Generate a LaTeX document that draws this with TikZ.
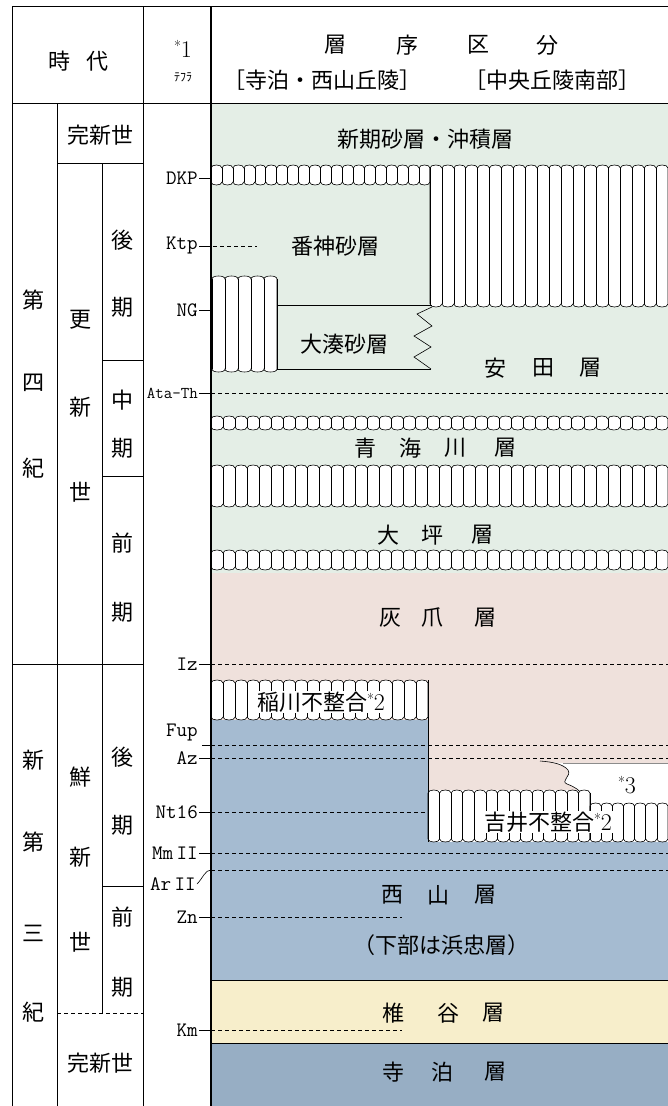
\documentclass[tikz,border=0pt]{standalone}
\usepackage{fontspec}
\newfontfamily\jp{Noto Sans CJK JP}
\definecolor{grn}{HTML}{E4EEE6}
\definecolor{pnk}{HTML}{EFE1DC}
\definecolor{blu}{HTML}{A5BBD1}
\definecolor{ylw}{HTML}{F7EECB}
\definecolor{blutwo}{HTML}{97AEC4}
\newcommand{\uband}[5]{%
  \pgfmathtruncatemacro{\ubn}{round((#2-#1)/#5)}%
  \pgfmathsetmacro{\ubs}{(#2-#1)/\ubn}%
  \filldraw[fill=white, draw=black, bnd]
    (#1,{#3+3})
    \foreach \k in {1,...,\ubn}{ .. controls ({#1+(\k-1)*\ubs},{#3-1}) and ({#1+\k*\ubs},{#3-1}) .. ({#1+\k*\ubs},{#3+3}) }
    -- (#2,{#4-3})
    \foreach \k in {\ubn,...,1}{ .. controls ({#1+\k*\ubs},{#4+1}) and ({#1+(\k-1)*\ubs},{#4+1}) .. ({#1+(\k-1)*\ubs},{#4-3}) }
    -- cycle;
  \foreach \k in {0,...,\ubn}{ \draw[bnd] ({#1+\k*\ubs},{#3+3}) -- ({#1+\k*\ubs},{#4-3}); }%
}
\newcommand{\astnum}[1]{{\rmfamily\fontsize{24}{24}\selectfont\raisebox{6pt}{\fontsize{15}{15}\selectfont *}#1}}
\begin{document}
\begin{tikzpicture}[x=1pt,y=-1pt,
  hj/.style={font=\jp\fontsize{22}{22}\selectfont, inner sep=0pt},
  sj/.style={font=\jp\fontsize{22}{22}\selectfont, inner sep=0pt},
  tl/.style={font=\ttfamily\fontsize{20.5}{20.5}\selectfont, inner sep=1pt, anchor=east},
  frame/.style={line width=0.8pt},
  dsh/.style={dash pattern=on 4pt off 3pt, line width=0.7pt},
  bnd/.style={line width=0.6pt}]
\useasboundingbox (0,0) rectangle (668,1106);
\fill[white] (0,0) rectangle (668,1106);
% ---------- layer backgrounds
\fill[grn] (211,103) rectangle (668,573);
\fill[pnk] (211,573) rectangle (668,790);
\fill[blu] (211,720) rectangle (428,842);
\fill[blu] (211,842) rectangle (668,980);
\fill[ylw] (211,980) rectangle (668,1043);
\fill[blutwo] (211,1043) rectangle (668,1106);
% ---------- dashed tephra lines
\coordinate (kS) at (213,246); \coordinate (kE) at (257,246);
\coordinate (aS) at (211,393); \coordinate (aE) at (668,393);
\coordinate (iS) at (211,664); \coordinate (iE) at (668,664);
\coordinate (fupS) at (202,745); \coordinate (fS) at (211,745); \coordinate (fE) at (668,745);
\coordinate (azS) at (211,758); \coordinate (azE) at (668,758);
\coordinate (nS) at (211,812); \coordinate (nE) at (668,812);
\coordinate (mS) at (211,853); \coordinate (mE) at (668,853);
\coordinate (rS) at (211,870); \coordinate (rE) at (668,870);
\coordinate (zS) at (211,917); \coordinate (zE) at (402,917);
\coordinate (kmS) at (211,1030); \coordinate (kmE) at (402,1030);
\draw[dsh] (kS) -- (kE);
\draw[dsh] (aS) -- (aE);
\draw[dsh] (iS) -- (iE);
\draw[dsh] (fS) -- (fE);
\draw[dsh] (azS) -- (azE);
\draw[dsh] (nS) -- (nE);
\draw[dsh] (mS) -- (mE);
\draw[dsh] (rS) -- (rE);
\draw[dsh] (zS) -- (zE);
\draw[dsh] (kmS) -- (kmE);
% ---------- *3 region
\fill[white] (540,761) .. controls (553,762) and (563,764) .. (568,770)
  .. controls (572,776) and (560,781) .. (567,784)
  .. controls (575,787) and (580,790) .. (584,797)
  .. controls (586,801) and (588,803) .. (590,803)
  -- (668,803) -- (668,763) -- (560,763) -- cycle;
\draw[bnd] (540,761) .. controls (553,762) and (563,764) .. (568,770)
  .. controls (572,776) and (560,781) .. (567,784)
  .. controls (575,787) and (580,790) .. (584,797)
  .. controls (586,801) and (588,803) .. (590,803);
\draw[black!45, line width=0.5pt] (563,763) -- (668,763);
% ---------- unconformity bands
\uband{211}{430}{165}{185}{11}
\uband{430}{668}{165}{307}{12}
\uband{212}{277}{276}{372}{13}
\uband{211}{668}{416}{430}{12}
\uband{211}{668}{465}{507}{12}
\uband{211}{668}{550}{570}{12}
\uband{211}{428}{680}{720}{12}
\uband{428}{590}{790}{842}{12}
\uband{590}{668}{803}{842}{12}
% ---------- Ominato box and zigzag
\draw[bnd] (277,305) -- (432,305);
\draw[bnd] (277,369) -- (431,369);
\draw[bnd] (432,307) -- (417,314) -- (432,326) -- (414,336) -- (431,347) -- (414,357) -- (431,369);
% boundary Inagawa / Yoshii
\draw[line width=0.8pt] (428,680) -- (428,842);
% Shiiya band borders
\draw[line width=0.9pt] (211,980) -- (668,980);
\draw[line width=0.9pt] (211,1043) -- (668,1043);
% ---------- frame
\draw[frame] (12,6) -- (668,6);
\draw[frame] (12,103) -- (668,103);
\draw[frame] (12,6) -- (12,1106);
\draw[frame] (143,6) -- (143,1106);
\draw[line width=1.4pt] (211,6) -- (211,1106);
\draw[frame] (57,103) -- (57,1106);
\draw[frame] (57,163) -- (143,163);
\draw[frame] (102,163) -- (102,1013);
\draw[frame] (102,360) -- (143,360);
\draw[frame] (102,476) -- (143,476);
\draw[frame] (12,664) -- (143,664);
\draw[frame] (102,886) -- (143,886);
\draw[dsh] (57,1013) -- (143,1013);
% ---------- header
\node[hj] (hT1) at (59,61) {時};
\node[hj] (hT2) at (97,61) {代};
\node[inner sep=0pt] (hS1) at (183,49) {\astnum{1}};
\node[font=\jp\fontsize{12}{12}\selectfont, inner sep=0pt] (hTe) at (183,77) {ﾃﾌﾗ};
\node[hj] (hL1) at (335,45) {層};
\node[hj] (hL2) at (407,45) {序};
\node[hj] (hL3) at (478,45) {区};
\node[hj] (hL4) at (547,45) {分};
\node[hj] (hR1) at (322,80) {［寺泊・西山丘陵］};
\node[hj] (hR2) at (552,80) {［中央丘陵南部］};
% ---------- era column
\node[hj] (eH1) at (100,135) {完新世};
\node[hj] (q1) at (34,300) {第};
\node[hj] (q2) at (34,383) {四};
\node[hj] (q3) at (34,468) {紀};
\node[hj] (p1) at (80,320) {更};
\node[hj] (p2) at (80,407) {新};
\node[hj] (p3) at (80,492) {世};
\node[hj] (l1) at (122,240) {後};
\node[hj] (l2) at (122,307) {期};
\node[hj] (m1) at (122,400) {中};
\node[hj] (m2) at (122,448) {期};
\node[hj] (e1) at (122,543) {前};
\node[hj] (e2) at (122,612) {期};
\node[hj] (n1) at (34,760) {新};
\node[hj] (n2) at (34,842) {第};
\node[hj] (n3) at (34,933) {三};
\node[hj] (n4) at (34,1012) {紀};
\node[hj] (s1) at (80,777) {鮮};
\node[hj] (s2) at (80,857) {新};
\node[hj] (s3) at (80,942) {世};
\node[hj] (nl1) at (122,757) {後};
\node[hj] (nl2) at (122,825) {期};
\node[hj] (ne1) at (122,917) {前};
\node[hj] (ne2) at (122,987) {期};
\node[hj] (eH2) at (100,1063) {完新世};
% ---------- tephra labels
\coordinate (cDKP) at (211,178);
\coordinate (cKtp) at (211,246);
\coordinate (cNG) at (211,310);
\coordinate (cIz) at (211,664);
\coordinate (cMm) at (211,853);
\coordinate (cAr) at (211,870);
\coordinate (cZn) at (211,917);
\coordinate (cKm) at (211,1030);
\coordinate (cAz) at (211,758);
\coordinate (cNt) at (211,812);
\coordinate (cAt) at (211,393);
\node[tl] (tDKP) at (199,178) {DKP};
\node[tl] (tKtp) at (199,246) {Ktp};
\node[tl] (tNG) at (199,310) {NG};
\node[tl, font=\ttfamily\fontsize{16.5}{16.5}\selectfont] (tAt) at (199,393) {Ata-Th};
\node[tl] (tIz) at (199,664) {Iz};
\node[tl] (tFup) at (199,733) {Fup};
\node[tl] (tAz) at (199,758) {Az};
\node[tl] (tNt) at (199,812) {Nt16};
\node[tl] (tMm) at (199,853) {Mm\,II};
\node[tl] (tAr) at (197,884) {Ar\,II};
\node[tl] (tZn) at (199,917) {Zn};
\node[tl] (tKm) at (199,1030) {Km};
\draw[bnd] (tDKP.east) -- (cDKP);
\draw[bnd] (tKtp.east) -- (cKtp);
\draw[bnd] (tNG.east) -- (cNG);
\draw[bnd] (tAt.east) -- (cAt);
\draw[bnd] (tIz.east) -- (cIz);
\draw[bnd] (fupS) -- (fS);
\draw[bnd] (tAz.east) -- (cAz);
\draw[bnd] (tNt.east) -- (cNt);
\draw[bnd] (tMm.east) -- (cMm);
\draw[bnd] (tAr.east) .. controls (203,878) and (205,870) .. (cAr);
\draw[bnd] (tZn.east) -- (cZn);
\draw[bnd] (tKm.east) -- (cKm);
% ---------- strata names
\node[sj] (u1) at (425,139) {新期砂層・沖積層};
\node[sj] (u2) at (335,246) {番神砂層};
\node[sj] (u3) at (344,344) {大湊砂層};
\node[sj] (y1) at (495,368) {安};
\node[sj] (y2) at (543,368) {田};
\node[sj] (y3) at (590,368) {層};
\node[sj] (o1) at (365,448) {青};
\node[sj] (o2) at (410,448) {海};
\node[sj] (o3) at (455,448) {川};
\node[sj] (o4) at (505,448) {層};
\node[sj] (b1) at (388,535) {大};
\node[sj] (b2) at (432,535) {坪};
\node[sj] (b3) at (482,535) {層};
\node[sj] (k1) at (390,618) {灰};
\node[sj] (k2) at (432,618) {爪};
\node[sj] (k3) at (485,618) {層};
\node[sj, fill=white, inner sep=1pt] (g1) at (321,702) {稲川不整合\astnum{2}};
\node[sj, fill=white, inner sep=1pt] (g2) at (548,822) {吉井不整合\astnum{2}};
\node[inner sep=0pt] (g3) at (627,785) {\astnum{3}};
\node[sj] (w1) at (392,895) {西};
\node[sj] (w2) at (438,895) {山};
\node[sj] (w3) at (485,895) {層};
\node[sj] (w4) at (441,945) {（下部は浜忠層）};
\node[sj] (v1) at (393,1013) {椎};
\node[sj] (v2) at (448,1013) {谷};
\node[sj] (v3) at (493,1013) {層};
\node[sj] (r1) at (393,1072) {寺};
\node[sj] (r2) at (442,1072) {泊};
\node[sj] (r3) at (495,1072) {層};
\end{tikzpicture}
\end{document}
